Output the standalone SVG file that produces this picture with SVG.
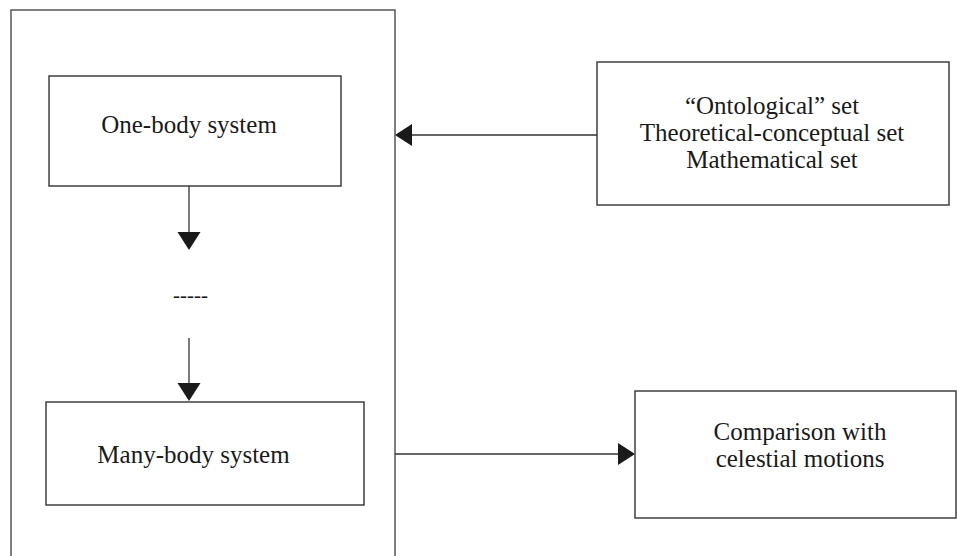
<svg xmlns="http://www.w3.org/2000/svg" width="957" height="556" viewBox="0 0 957 556">
<style>
.box{fill:#fff;stroke:#333;stroke-width:1.4}
.outer{fill:none;stroke:#555;stroke-width:1.5}
.line{fill:none;stroke:#333;stroke-width:1.3}
.head{fill:#1a1a1a;stroke:none}
text{font-family:"Liberation Serif","Times New Roman",serif;font-size:25px;fill:#1a1a1a;text-anchor:middle}
</style>
<rect width="957" height="556" fill="#fff"/>
<g id="frame">
<rect class="outer" x="11" y="10" width="384" height="560"/>
</g>
<g id="one-body">
<rect class="box" x="49" y="76" width="292" height="110"/>
<text x="189" y="133">One-body system</text>
</g>
<g id="ellipsis">
<text x="190.5" y="302" style="font-size:21px">-----</text>
</g>
<g id="many-body">
<rect class="box" x="46" y="402" width="318" height="103"/>
<text x="193.5" y="463">Many-body system</text>
</g>
<g id="sets">
<rect class="box" x="597" y="62" width="352" height="143"/>
<text x="772" y="114">“Ontological” set</text>
<text x="772" y="141">Theoretical-conceptual set</text>
<text x="772" y="168">Mathematical set</text>
</g>
<g id="comparison">
<rect class="box" x="635" y="391" width="321" height="127"/>
<text x="800" y="440">Comparison with</text>
<text x="800" y="467">celestial motions</text>
</g>
<g id="connectors">
<line class="line" x1="189" y1="186" x2="189" y2="234"/>
<polygon class="head" points="177.5,232 200.5,232 189,250"/>
<line class="line" x1="189" y1="338" x2="189" y2="385"/>
<polygon class="head" points="177.5,383 200.5,383 189,401"/>
<line class="line" x1="597" y1="135" x2="410" y2="135"/>
<polygon class="head" points="412,124 412,146 395,135"/>
<line class="line" x1="395" y1="454" x2="620" y2="454"/>
<polygon class="head" points="618,443 618,465 635,454"/>
</g>
</svg>
